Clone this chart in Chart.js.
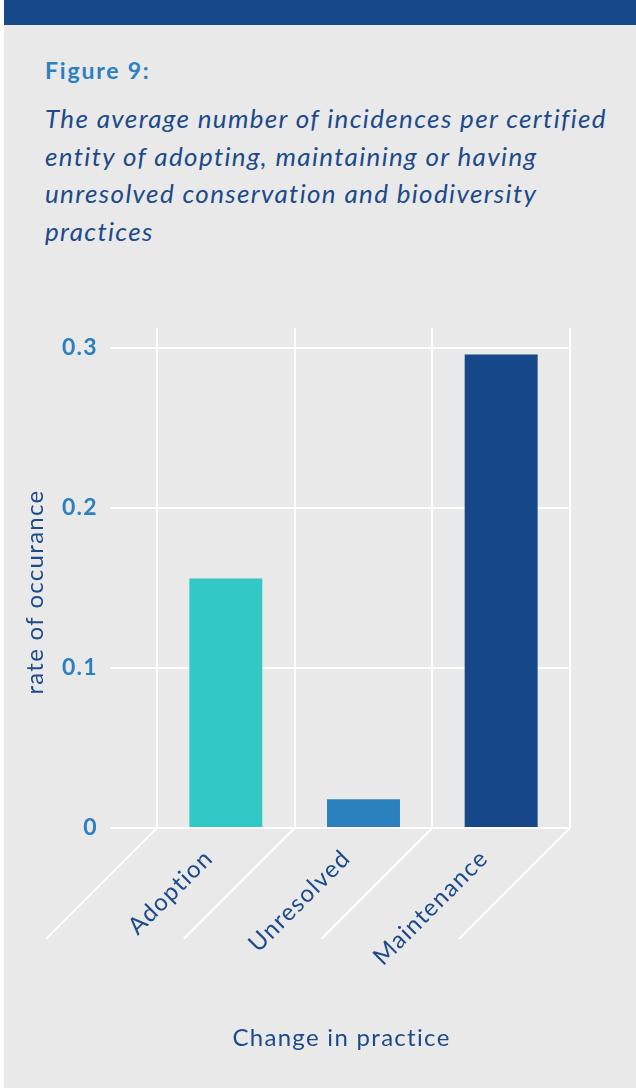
<!DOCTYPE html>
<html>
<head>
<meta charset="utf-8">
<script src="https://cdn.jsdelivr.net/npm/chart.js@4"></script>
<style>
  html, body { margin: 0; padding: 0; background: #ffffff; }
  #panel {
    position: absolute; left: 4px; top: 0; width: 632px; height: 1088px;
    background: #e9e9e9; overflow: hidden;
  }
  #band { position: absolute; left: 0; top: 0; width: 632px; height: 25px; background: #16488a; }
  #fig {
    position: absolute; left: 41px; top: 56px; margin: 0;
    font: bold 23px "Lato", sans-serif; color: #2a80c1; letter-spacing: 1.8px;
  }
  #sub {
    position: absolute; left: 41px; top: 100px; width: 590px; margin: 0; white-space: nowrap;
    font: italic 26px/37.5px "Lato", sans-serif; color: #1c4a8b; letter-spacing: 1.35px;
  }
  #chartBox { position: absolute; left: 0; top: 300px; width: 632px; height: 788px; }
</style>
</head>
<body>
<div id="panel">
  <div id="band"></div>
  <p id="fig">Figure 9:</p>
  <p id="sub">The average number of incidences per certified<br>entity of adopting, maintaining or having<br>unresolved conservation and biodiversity<br>practices</p>
  <div id="chartBox"><canvas id="grafico"></canvas></div>
</div>
<script>
// dados do gráfico
const categorias = ['Adoption', 'Unresolved', 'Maintenance'];
const valores = [0.156, 0.018, 0.296];
const coresBarras = ['#31c8c6', '#2b80be', '#164889'];
const ticksY = [0, 0.1, 0.2, 0.3];
const tituloX = 'Change in practice';
const tituloY = 'rate of occurance';

const corGrelha = '#ffffff';
const corTexto = '#1c4a8b';
const fonteTexto = '24px Lato';

// espaçamento entre letras para todo o texto do canvas
const espacamento = {
  id: 'espacamento',
  beforeDraw(chart) { chart.ctx.letterSpacing = '1.3px'; }
};

// linhas diagonais que descem de cada divisória do eixo x
const diagonais = {
  id: 'diagonais',
  beforeDatasetsDraw(chart) {
    const area = chart.chartArea;
    const passo = (area.right - area.left) / categorias.length;
    const ctx = chart.ctx;
    ctx.save();
    ctx.strokeStyle = corGrelha;
    ctx.lineWidth = 2;
    for (let i = 0; i <= categorias.length; i++) {
      const px = area.left + i * passo;
      ctx.beginPath();
      ctx.moveTo(px, area.bottom);
      ctx.lineTo(px - 111, area.bottom + 111);
      ctx.stroke();
    }
    ctx.restore();
  }
};

// títulos dos eixos
const titulos = {
  id: 'titulos',
  afterDraw(chart) {
    const area = chart.chartArea;
    const ctx = chart.ctx;
    ctx.save();
    ctx.fillStyle = corTexto;
    ctx.font = fonteTexto;
    ctx.textAlign = 'center';
    ctx.textBaseline = 'middle';
    ctx.fillText(tituloX, (area.left + area.right) / 2 - 22, area.bottom + 210);
    ctx.translate(31, (area.top + area.bottom) / 2 + 14);
    ctx.rotate(-Math.PI / 2);
    ctx.fillText(tituloY, 0, 0);
    ctx.restore();
  }
};

new Chart(document.getElementById('grafico'), {
  type: 'bar',
  data: {
    labels: categorias,
    datasets: [{
      data: valores,
      backgroundColor: coresBarras,
      borderWidth: 0,
      barPercentage: 0.53,
      categoryPercentage: 1
    }]
  },
  options: {
    responsive: true,
    maintainAspectRatio: false,
    animation: false,
    layout: { padding: { top: 28, right: 66, left: 0, bottom: 0 } },
    plugins: { legend: { display: false }, tooltip: { enabled: false } },
    scales: {
      x: {
        grid: { color: corGrelha, lineWidth: 2, drawTicks: false, offset: true },
        border: { display: false },
        ticks: {
          minRotation: 45, maxRotation: 45, autoSkip: false,
          padding: 16, labelOffset: -17,
          color: corTexto, font: { family: 'Lato', size: 24 }
        },
        afterFit(scale) { scale.height = 260; }
      },
      y: {
        min: 0, max: 0.3125,
        grid: { color: corGrelha, lineWidth: 2, tickLength: 47, tickColor: corGrelha },
        border: { display: false },
        afterBuildTicks(scale) { scale.ticks = ticksY.map(v => ({ value: v })); },
        ticks: {
          padding: 12, color: '#2a80c1',
          font: { family: 'Lato', size: 23, weight: 'bold' },
          callback: v => String(v)
        },
        afterFit(scale) { scale.width = 153; }
      }
    }
  },
  plugins: [espacamento, diagonais, titulos]
});
</script>
</body>
</html>
